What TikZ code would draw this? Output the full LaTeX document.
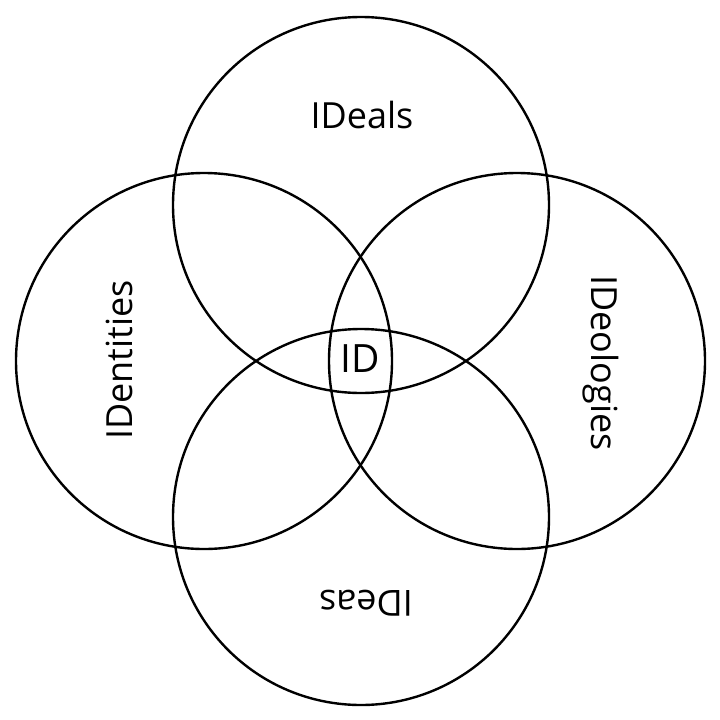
\documentclass[tikz,border=0pt]{standalone}
\usepackage{fontspec}
\setmainfont{Open Sans}
\begin{document}
\begin{tikzpicture}[x=1pt,y=-1pt,
  ring/.style={circle,draw=black,line width=2.4pt,minimum size=376pt,inner sep=0pt},
  lbl/.style={font=\fontsize{36}{42}\selectfont,inner sep=0pt}]
\useasboundingbox[fill=white] (0,0) rectangle (720,720);
\node[ring] (ctop) at (361,205) {};
\node[ring] (cleft) at (204,361) {};
\node[ring] (cright) at (517,361) {};
\node[ring] (cbottom) at (361,517) {};
\node[lbl] (tideals) at (362,115) {IDeals};
\node[lbl,rotate=90] (tidentities) at (119,360) {IDentities};
\node[lbl,rotate=-90] (tideologies) at (601,363) {IDeologies};
\node[lbl,rotate=180] (tideas) at (366,603) {IDeas};
\node[lbl,font=\fontsize{39}{45}\selectfont] (tid) at (360,359) {ID};
\end{tikzpicture}
\end{document}
